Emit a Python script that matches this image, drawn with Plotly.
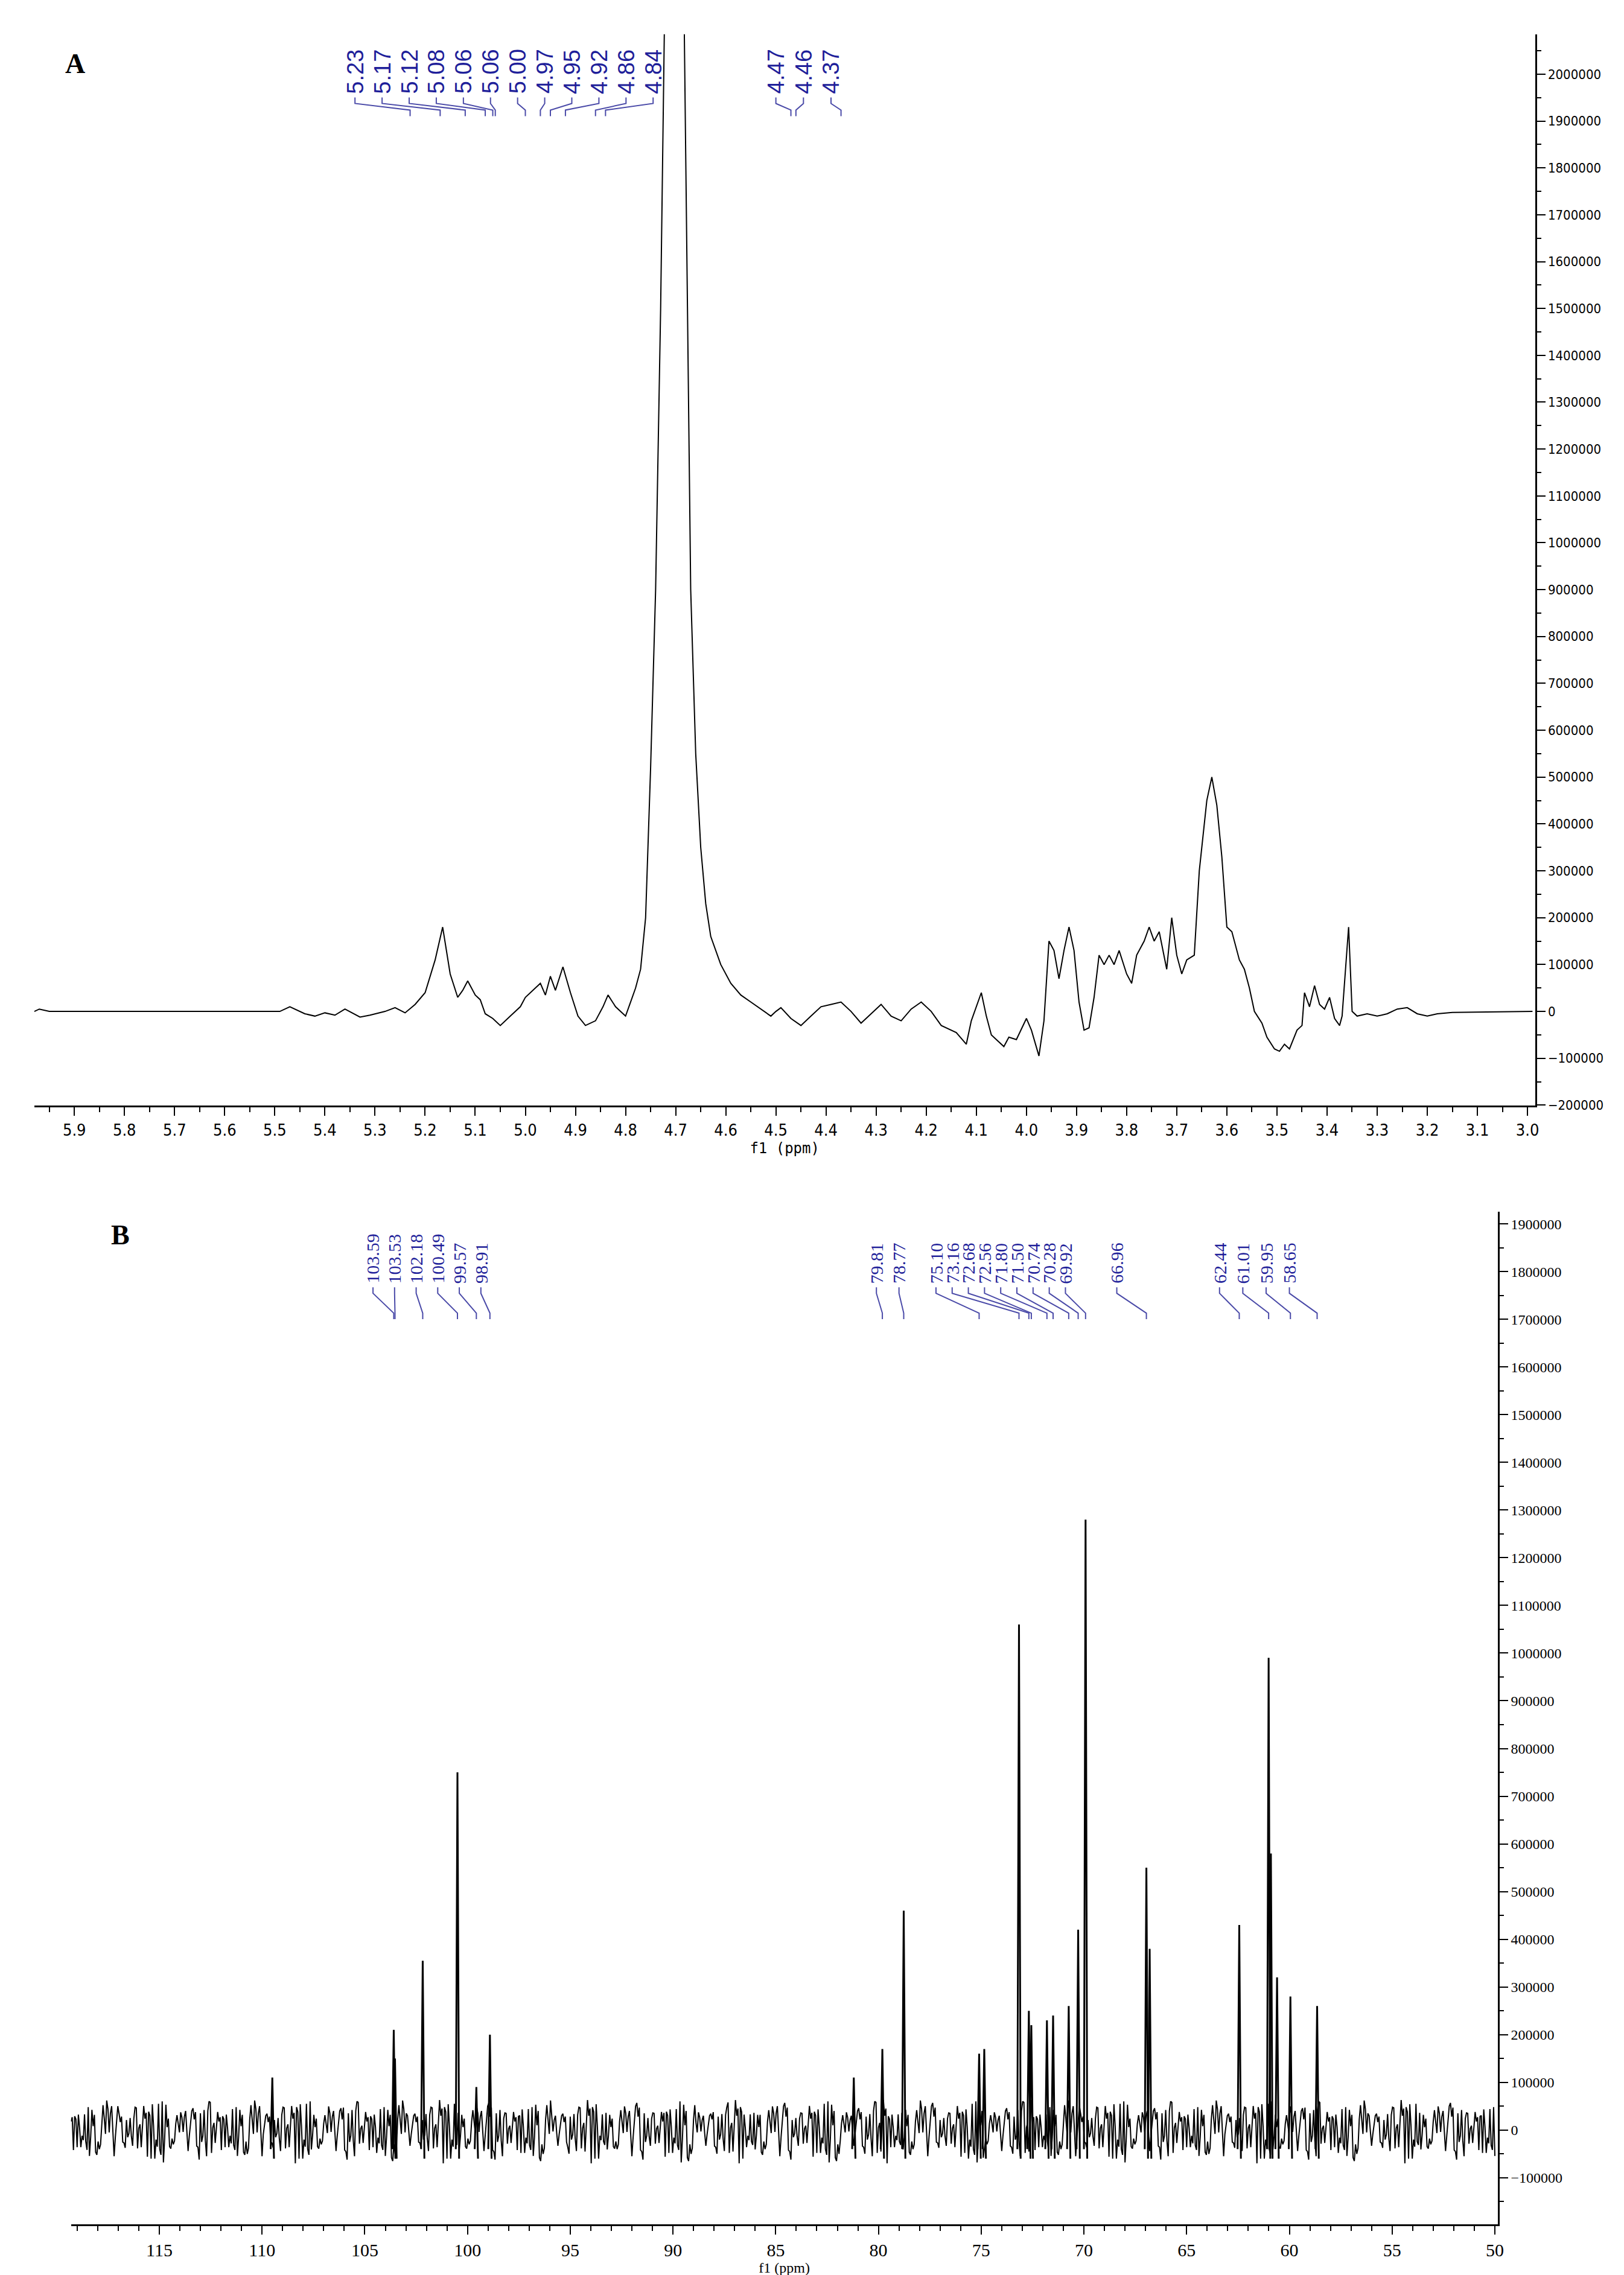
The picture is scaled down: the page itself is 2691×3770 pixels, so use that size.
import plotly.graph_objects as go

# ---------- panel A: 1H spectrum (ppm, intensity) ----------
h_ppm = [5.98, 5.97, 5.95, 5.60, 5.49, 5.47, 5.44, 5.42, 5.40, 5.38, 5.36, 5.33, 5.31, 5.28,
         5.26, 5.24, 5.22, 5.20, 5.18, 5.165, 5.15, 5.135, 5.125, 5.115, 5.10, 5.09, 5.08,
         5.065, 5.05, 5.03, 5.01, 5.00, 4.985, 4.97, 4.96, 4.95, 4.94, 4.925, 4.91, 4.895,
         4.88, 4.86, 4.845, 4.835, 4.82, 4.80, 4.79, 4.78, 4.77, 4.76, 4.75, 4.74, 4.73,
         4.72, 4.70, 4.685, 4.67, 4.66, 4.65, 4.64, 4.63, 4.61, 4.59, 4.57, 4.55, 4.53,
         4.51, 4.50, 4.49, 4.47, 4.45, 4.43, 4.41, 4.39, 4.37, 4.35, 4.33, 4.31, 4.29,
         4.27, 4.25, 4.23, 4.21, 4.19, 4.17, 4.14, 4.12, 4.11, 4.09, 4.08, 4.07, 4.06,
         4.045, 4.035, 4.02, 4.00, 3.99, 3.975, 3.965, 3.955, 3.945, 3.935, 3.925, 3.915,
         3.905, 3.895, 3.885, 3.875, 3.865, 3.855, 3.845, 3.835, 3.825, 3.815, 3.80, 3.79,
         3.78, 3.765, 3.755, 3.745, 3.735, 3.72, 3.71, 3.70, 3.69, 3.68, 3.665, 3.655,
         3.64, 3.63, 3.62, 3.61, 3.60, 3.59, 3.575, 3.565, 3.555, 3.545, 3.53, 3.52,
         3.505, 3.495, 3.485, 3.475, 3.46, 3.45, 3.445, 3.435, 3.425, 3.415, 3.405, 3.395,
         3.385, 3.375, 3.37, 3.357, 3.35, 3.34, 3.32, 3.30, 3.28, 3.26, 3.24, 3.22, 3.20,
         3.18, 3.15, 2.99]
h_int = [0, 5000, 0, 0, 0, 10000, -5000, -10000, -3000, -8000, 5000, -12000, -8000, 0,
         8000, -3000, 15000, 40000, 110000, 180000, 80000, 30000, 45000, 65000, 35000, 25000,
         -5000, -15000, -30000, -10000, 10000, 30000, 45000, 60000, 35000, 75000, 45000,
         95000, 40000, -10000, -30000, -20000, 10000, 35000, 10000, -10000, 20000, 50000,
         90000, 200000, 520000, 900000, 1500000, 2300000, 3000000, 2300000, 900000, 550000,
         350000, 230000, 160000, 100000, 60000, 35000, 20000, 5000, -10000, 0, 8000,
         -15000, -30000, -10000, 10000, 15000, 20000, 0, -25000, -5000, 15000, -10000,
         -20000, 5000, 20000, 0, -30000, -45000, -70000, -20000, 40000, -10000, -50000,
         -60000, -75000, -55000, -60000, -15000, -40000, -95000, -20000, 150000, 130000,
         70000, 130000, 180000, 130000, 20000, -40000, -35000, 30000, 120000, 100000,
         120000, 100000, 130000, 80000, 60000, 120000, 150000, 180000, 150000, 170000,
         90000, 200000, 120000, 80000, 110000, 120000, 300000, 450000, 500000, 440000,
         330000, 180000, 170000, 110000, 90000, 50000, 0, -25000, -55000, -80000, -85000,
         -70000, -80000, -40000, -30000, 40000, 10000, 55000, 15000, 5000, 30000, -15000,
         -30000, -10000, 180000, 0, -10000, -5000, -10000, -5000, 5000, 8000, -5000,
         -10000, -5000, -2000, 0]

h_labels = ["5.23", "5.17", "5.12", "5.08", "5.06", "5.06", "5.00", "4.97", "4.95",
            "4.92", "4.86", "4.84", "4.47", "4.46", "4.37"]
h_peaks = [5.23, 5.17, 5.12, 5.08, 5.065, 5.06, 5.00, 4.97, 4.95, 4.92, 4.86, 4.84,
           4.47, 4.46, 4.37]
h_ticks = [5.9, 5.8, 5.7, 5.6, 5.5, 5.4, 5.3, 5.2, 5.1, 5.0, 4.9, 4.8, 4.7, 4.6, 4.5,
           4.4, 4.3, 4.2, 4.1, 4.0, 3.9, 3.8, 3.7, 3.6, 3.5, 3.4, 3.3, 3.2, 3.1, 3.0]

# ---------- panel B: 13C spectrum ----------
c_peaks = [109.5, 103.59, 103.53, 102.18, 100.49, 99.57, 98.91, 81.2, 79.81, 78.77, 75.10,
           74.85, 73.16, 72.68, 72.56, 71.80, 71.50, 70.74, 70.28, 69.92, 66.96, 66.80,
           62.44, 61.01, 60.90, 60.60, 59.95, 58.65]
c_heights = [110000, 210000, 150000, 355000, 750000, 90000, 200000, 110000, 170000,
             460000, 160000, 170000, 1060000, 250000, 220000, 230000, 240000, 260000,
             420000, 1280000, 550000, 380000, 430000, 990000, 580000, 320000, 280000,
             260000]
c_noise = [30000, -45000, 52000, -20000, 60000, -55000, 10000, 45000, -62000, 25000,
           -35000, 58000, -15000, 40000, -70000, 35000, -8000, 55000, -48000, 20000,
           -58000, 48000, -25000, 62000, -40000, 5000, 50000, -65000, 38000, -12000,
           44000, -52000, 15000, 57000, -30000, -60000, 42000, -5000, 60000, -45000,
           28000, -50000, 54000, -22000, 35000, -68000, 18000, 47000, -38000, 8000,
           -55000, 50000, -18000, 63000, -42000, 22000, -60000, 40000, -10000, 53000]
c_labels = ["103.59", "103.53", "102.18", "100.49", "99.57", "98.91", "79.81", "78.77",
            "75.10", "73.16", "72.68", "72.56", "71.80", "71.50", "70.74", "70.28",
            "69.92", "66.96", "62.44", "61.01", "59.95", "58.65"]
c_label_peaks = [103.59, 103.53, 102.18, 100.49, 99.57, 98.91, 79.81, 78.77, 75.10,
                 73.16, 72.68, 72.56, 71.80, 71.50, 70.74, 70.28, 69.92, 66.96, 62.44,
                 61.01, 59.95, 58.65]
c_ticks = [115, 110, 105, 100, 95, 90, 85, 80, 75, 70, 65, 60, 55, 50]

W, H = 2691, 3770
fig = go.Figure()

fig.add_trace(go.Scatter(x=h_ppm, y=h_int, mode="lines", line=dict(color="black", width=2),
                         xaxis="x", yaxis="y", hoverinfo="skip"))

# noise baseline on a fine grid, the typed pattern repeated along the axis
step = 0.06
n_pts = int((119.3 - 49.9) / step)
nx_ = [119.3 - i * step for i in range(n_pts)]
ny_ = [c_noise[(i * 7) % len(c_noise)] * (0.6 + 0.4 * ((i // 13) % 3) / 2) for i in range(n_pts)]
fig.add_trace(go.Scatter(x=nx_, y=ny_, mode="lines", line=dict(color="black", width=2),
                         xaxis="x2", yaxis="y2", hoverinfo="skip"))
sx, sy = [], []
for p, h in zip(c_peaks, c_heights):
    sx += [p + 0.08, p, p - 0.08, None]
    sy += [-40000, h, -60000, None]
fig.add_trace(go.Scatter(x=sx, y=sy, mode="lines", line=dict(color="black", width=3),
                         xaxis="x2", yaxis="y2", hoverinfo="skip"))


def px_to_paper_y(py):
    return 1 - py / H


annotations = []
shapes = []


def add_labels(labels, peaks, groups, xref, text_bot, con_bot, fsize, family):
    idx = 0
    for (x0, x1, n) in groups:
        for k in range(n):
            lx = x0 + (x1 - x0) * k / max(n - 1, 1)
            annotations.append(dict(x=lx, y=px_to_paper_y(text_bot), xref=xref, yref="paper",
                                    text=labels[idx], textangle=-90, showarrow=False,
                                    xanchor="center", yanchor="bottom",
                                    font=dict(color="#1f1f9a", size=fsize, family=family)))
            pk = peaks[idx]
            ya = px_to_paper_y(text_bot + 4)
            yb = px_to_paper_y(text_bot + 14)
            yc = px_to_paper_y(con_bot - 10)
            yd = px_to_paper_y(con_bot)
            shapes.append(dict(type="path", xref=xref, yref="paper",
                               path=f"M {lx},{ya} L {lx},{yb} L {pk},{yc} L {pk},{yd}",
                               line=dict(color="#4a4aa8", width=2)))
            idx += 1


add_labels(h_labels, h_peaks, [(5.34, 4.745, 12), (4.50, 4.39, 3)], "x", 150, 185, 38,
           "Arial, Liberation Sans, sans-serif")
add_labels(c_labels, c_label_peaks, [(104.6, 99.35, 6), (80.1, 79.0, 2), (77.2, 70.9, 9),
                                     (68.4, 68.4, 1), (63.4, 60.0, 4)], "x2", 2128, 2185, 30,
           "Liberation Serif, Times New Roman, serif")

annotations.append(dict(x=98 / W, y=px_to_paper_y(70), xref="paper", yref="paper", text="<b>A</b>",
                        showarrow=False, font=dict(size=46, family="Liberation Serif", color="black")))
annotations.append(dict(x=175 / W, y=px_to_paper_y(2045), xref="paper", yref="paper", text="<b>B</b>",
                        showarrow=False, font=dict(size=46, family="Liberation Serif", color="black")))

axis_common = dict(showgrid=False, zeroline=False, showline=True, linecolor="black",
                   linewidth=3, ticks="outside", tickcolor="black", ticklen=14, tickwidth=2)

fig.update_layout(
    width=W, height=H, margin=dict(l=0, r=0, t=0, b=0),
    paper_bgcolor="white", plot_bgcolor="white", showlegend=False,
    font=dict(color="black"),
    xaxis=dict(axis_common, domain=[49 / W, 2545 / W], range=[5.98, 2.985],
               tickvals=h_ticks, ticktext=[f"{t:.1f}" for t in h_ticks],
               minor=dict(dtick=0.05, ticks="outside", ticklen=8, tickcolor="black"),
               title=dict(text="f1 (ppm)", standoff=8,
                          font=dict(size=24, family="DejaVu Sans Mono", color="black")),
               tickfont=dict(size=27, color="black",
                             family="DejaVu Sans Condensed, Liberation Sans Narrow"),
               anchor="y"),
    yaxis=dict(axis_common, domain=[1 - 1830 / H, 1 - 49 / H], range=[-201000, 2085000],
               side="right", dtick=100000, tickformat="d", anchor="x",
               minor=dict(dtick=50000, ticks="outside", ticklen=7, tickcolor="black"),
               tickfont=dict(size=22, color="black",
                             family="DejaVu Sans Condensed, Liberation Sans Narrow")),
    xaxis2=dict(axis_common, domain=[110 / W, 2483 / W], range=[119.3, 49.86],
                tickvals=c_ticks,
                minor=dict(dtick=1, ticks="outside", ticklen=8, tickcolor="black"),
                title=dict(text="f1 (ppm)", standoff=4,
                           font=dict(size=24, family="Liberation Serif", color="black")),
                tickfont=dict(size=30, family="Liberation Serif", color="black"), anchor="y2"),
    yaxis2=dict(axis_common, domain=[1 - 3690 / H, 1 - 2006 / H], range=[-198000, 1926000],
                side="right", dtick=100000, tickformat="d", anchor="x2",
                minor=dict(dtick=50000, ticks="outside", ticklen=7, tickcolor="black"),
                tickfont=dict(size=24, family="Liberation Serif", color="black")),
    annotations=annotations, shapes=shapes,
)

fig.write_html("out.html")
